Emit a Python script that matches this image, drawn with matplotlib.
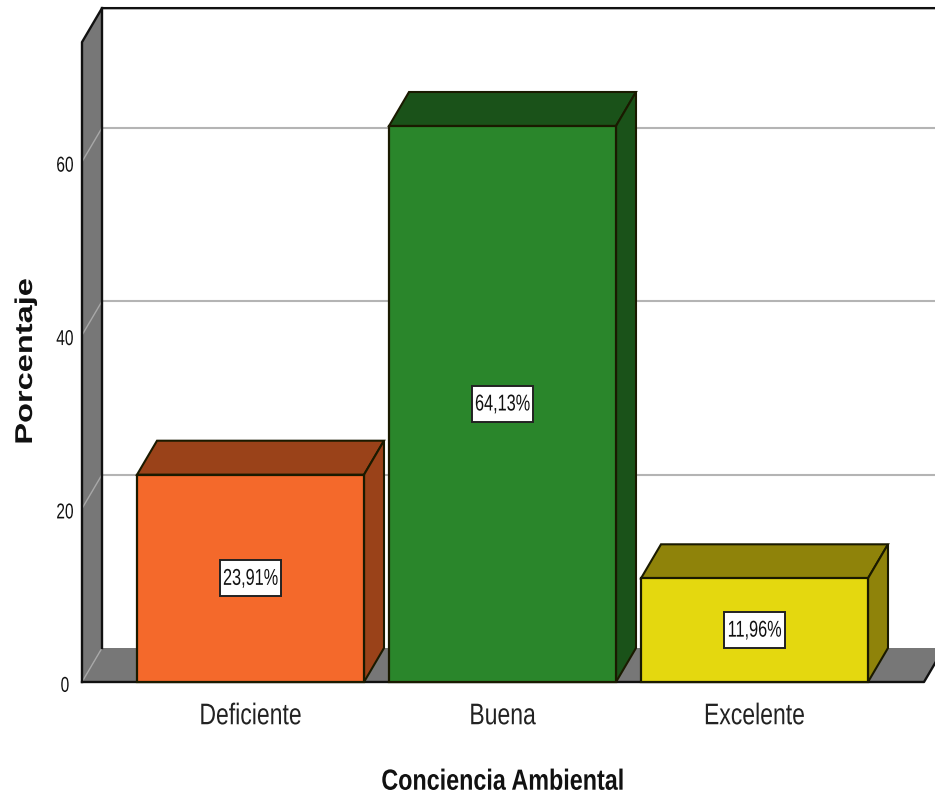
import matplotlib
matplotlib.use('Agg')
import matplotlib.pyplot as plt
from matplotlib.patches import Polygon, Rectangle
from matplotlib.patheffects import AbstractPathEffect
from matplotlib.transforms import Affine2D

# values
categorias = ['Deficiente', 'Buena', 'Excelente']
porcentajes = [23.91, 64.13, 11.96]
etiquetas = ['23,91%', '64,13%', '11,96%']
ticks_y = [0, 20, 40, 60]
y_techo = 73.8

colores = ['#F4692B', '#2A862B', '#E4D80F']
colores_osc = ['#9A4219', '#1A5219', '#8F830A']
GRIS = '#777777'
FUENTE = 'Liberation Sans'

# one category = 252 px, one percent point = 8.67 px, first category centred on px 250.5
PX_X = 252.0
PX_Y = 8.67
DX = 20 / PX_X    # depth of the fake 3D
DY = 34 / PX_Y
ANCHO = 227 / PX_X


class Apretar(AbstractPathEffect):
    # squeezes or widens the glyphs along the text direction, no narrow font installed
    def __init__(self, sx):
        super().__init__()
        self.sx = sx

    def draw_path(self, renderer, gc, tpath, affine, rgbFace=None):
        cx = tpath.get_extents().x0 + tpath.get_extents().width / 2
        aff = Affine2D().translate(-cx, 0).scale(self.sx, 1).translate(cx, 0) + affine
        renderer.draw_path(gc, tpath, aff, rgbFace)


fig = plt.figure(figsize=(9.35, 7.96), dpi=100)
ax = fig.add_axes([0, 0, 1, 1])
ax.set_xlim(-250.5 / PX_X, (935 - 250.5) / PX_X)
ax.set_ylim((682 - 796) / PX_Y, 682 / PX_Y)
ax.axis('off')

x_pared = (82 - 250.5) / PX_X
x_fin = (935 - 250.5) / PX_X
x_suelo = (924 - 250.5) / PX_X

# left wall and floor
ax.add_patch(Polygon([(x_pared, 0), (x_pared, y_techo), (x_pared + DX, y_techo + DY), (x_pared + DX, DY)],
                     fc=GRIS, ec='none', zorder=1))
ax.add_patch(Polygon([(x_pared, 0), (x_pared + DX, DY), (x_suelo + DX, DY), (x_suelo, 0)],
                     fc=GRIS, ec='none', zorder=1))

# grid lines, back wall plus the slant on the side wall
for t in ticks_y:
    if t > 0:
        ax.plot([x_pared + DX, x_fin], [t + DY, t + DY], color='#b4b4b4', lw=1.5, zorder=2)
    ax.plot([x_pared, x_pared + DX], [t, t + DY], color='#a8a8a8', lw=1.0, zorder=2)
    ax.text(x_pared - 17 / PX_X, t - 0.5, str(t), ha='center', va='center', fontsize=15.5,
            family=FUENTE, color='#111111', path_effects=[Apretar(0.72)])

# wall outline
ax.plot([x_pared, x_pared, x_pared + DX, x_fin], [0, y_techo, y_techo + DY, y_techo + DY],
        color='#111111', lw=1.7, zorder=3)
ax.plot([x_pared + DX, x_pared + DX], [DY, y_techo + DY], color='#111111', lw=1.7, zorder=3)
ax.plot([x_pared, x_suelo, x_suelo + DX], [0, 0, DY], color='#111111', lw=1.7, zorder=3)

# bars
for i, v in enumerate(porcentajes):
    x0 = i - ANCHO / 2
    x1 = i + ANCHO / 2
    ax.add_patch(Polygon([(x0, v), (x0 + DX, v + DY), (x1 + DX, v + DY), (x1, v)],
                         fc=colores_osc[i], ec='#1a1a00', lw=1.5, zorder=4))
    ax.add_patch(Polygon([(x1, 0), (x1 + DX, DY), (x1 + DX, v + DY), (x1, v)],
                         fc=colores_osc[i], ec='#1a1a00', lw=1.5, zorder=4))
    ax.add_patch(Rectangle((x0, 0), ANCHO, v, fc=colores[i], ec='#1a1a00', lw=1.6, zorder=5))
    # value label box
    bw = 61 / PX_X
    bh = 36 / PX_Y
    ax.add_patch(Rectangle((i - bw / 2, v / 2 - bh / 2), bw, bh, fc='white', ec='#222222', lw=1.4, zorder=6))
    ax.text(i, v / 2, etiquetas[i], ha='center', va='center', fontsize=16.5, family=FUENTE,
            color='#111111', zorder=7, path_effects=[Apretar(0.71)])
    ax.text(i, -3.95, categorias[i], ha='center', va='center', fontsize=21.5, family=FUENTE,
            color='#222222', path_effects=[Apretar(0.77)])

ax.text(1, -11.5, 'Conciencia Ambiental', ha='center', va='center', fontsize=21, family=FUENTE,
        fontweight='bold', color='#111111', path_effects=[Apretar(0.8)])
ax.text(-225 / PX_X, 37.0, 'Porcentaje', rotation=90, ha='center', va='center', fontsize=17.5,
        family=FUENTE, fontweight='bold', color='#111111', path_effects=[Apretar(1.34)])

fig.savefig('out.png', dpi=100)
